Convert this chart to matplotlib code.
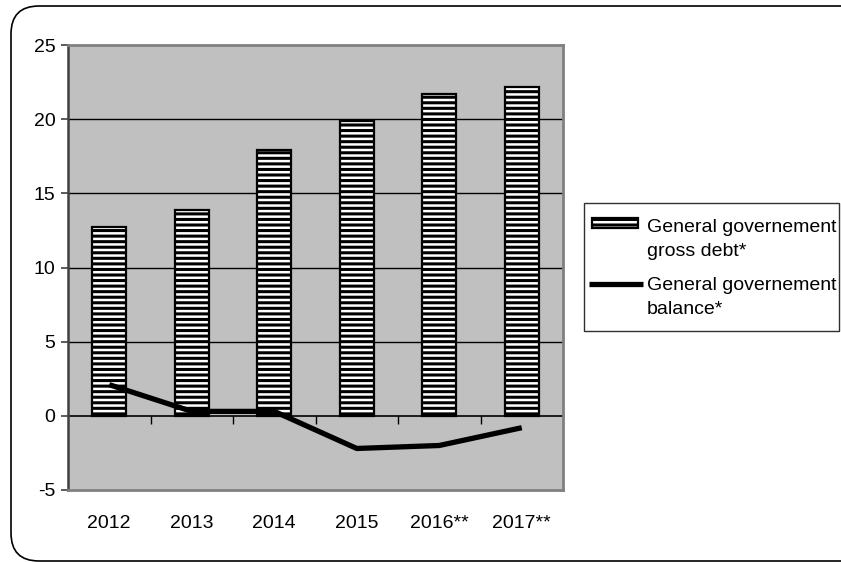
import numpy as np
import matplotlib.pyplot as plt
from matplotlib.patches import FancyBboxPatch, Rectangle
from matplotlib.lines import Line2D

plt.rcParams['font.family'] = ['Liberation Sans', 'DejaVu Sans']
plt.rcParams['axes.unicode_minus'] = False
plt.rcParams['hatch.linewidth'] = 2.2

# 数据
years = ['2012', '2013', '2014', '2015', '2016**', '2017**']
gross_debt = [12.7, 13.9, 17.9, 19.9, 21.7, 22.2]
balance = [2.1, 0.3, 0.3, -2.2, -2.0, -0.8]
debt_label = ['General governement', 'gross debt*']
balance_label = ['General governement', 'balance*']

W, H = 841, 562
fig = plt.figure(figsize=(W / 100, H / 100), dpi=100)
ax = fig.add_axes([68 / W, 1 - 490 / H, (563 - 68) / W, (490 - 45) / H])
ax.set_facecolor('#c0c0c0')

x = np.arange(len(years))
ax.bar(x, gross_debt, width=0.41, color='white', edgecolor='black',
       linewidth=1.6, hatch='---', zorder=3)
ax.plot(x, balance, color='black', linewidth=3.8, solid_capstyle='butt',
        zorder=4)

ax.set_xlim(-0.5, len(years) - 0.5)
ax.set_ylim(-5, 25)
ax.set_yticks(np.arange(-5, 26, 5))
ax.set_xticks(x)
ax.set_xticklabels(years)
ax.tick_params(axis='x', length=0, pad=18, labelsize=14)
ax.tick_params(axis='y', length=5, width=1.2, labelsize=14, pad=4,
               color='#404040')

# 网格线和零轴
for v in [5, 10, 15, 20]:
    ax.axhline(v, color='black', linewidth=1.0, zorder=1)
ax.axhline(0, color='black', linewidth=1.2, zorder=2)
ax.plot(np.arange(0.5, len(years) - 0.5), np.zeros(len(years) - 1),
        linestyle='none', marker=3, markersize=6, markeredgewidth=1.0,
        color='black', zorder=2, clip_on=False)

for s in ['top', 'right', 'bottom']:
    ax.spines[s].set_color('#808080')
    ax.spines[s].set_linewidth(2)
ax.spines['left'].set_color('#404040')
ax.spines['left'].set_linewidth(1.8)

# 外框
frame = FancyBboxPatch((11, 1), 860, 555, boxstyle='round,pad=0,rounding_size=28',
                       transform=None, facecolor='none', edgecolor='black',
                       linewidth=1.2, zorder=0)
fig.patches.append(frame)


# 图例
def px(xp, yp):
    return xp / W, 1 - yp / H


lx, ly = px(584, 331)
box = Rectangle((lx, ly), (839 - 584) / W, (331 - 203) / H,
                transform=fig.transFigure, facecolor='white',
                edgecolor='#303030', linewidth=1.0)
fig.patches.append(box)

hx, hy = px(592, 228)
handle = Rectangle((hx, hy), 46 / W, 10 / H, transform=fig.transFigure,
                   facecolor='white', edgecolor='black', linewidth=1.6,
                   hatch='---')
fig.patches.append(handle)
fig.lines.append(Line2D([589 / W, 643 / W], [1 - 284 / H, 1 - 284 / H],
                        transform=fig.transFigure, color='black',
                        linewidth=3.8, solid_capstyle='butt'))

rows = debt_label + balance_label
for yb, txt in zip([232, 256, 290, 314], rows):
    tx, ty = px(647, yb)
    fig.text(tx, ty, txt, fontsize=14, va='baseline', ha='left')

fig.savefig('out.png', dpi=100)
